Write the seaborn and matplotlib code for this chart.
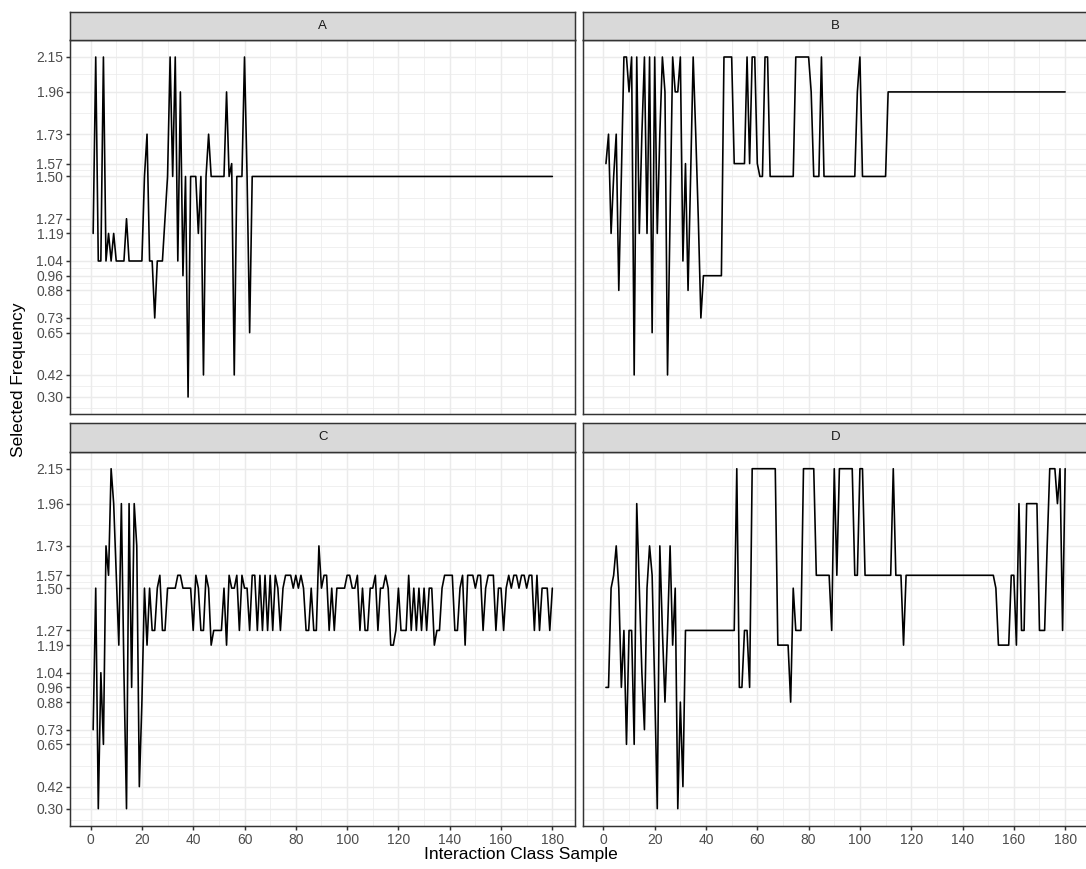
import numpy as np
import pandas as pd
import seaborn as sns
import matplotlib
matplotlib.use("Agg")
import matplotlib.pyplot as plt

sns.set_theme(style="white")
plt.rcParams['font.family'] = ['Liberation Sans', 'DejaVu Sans']

panels = ["A", "B", "C", "D"]
y_breaks = [0.30, 0.42, 0.65, 0.73, 0.88, 0.96, 1.04, 1.19, 1.27, 1.50, 1.57, 1.73, 1.96, 2.15]
x_breaks = [0, 20, 40, 60, 80, 100, 120, 140, 160, 180]
sample = list(range(1, 181))

freq_a = [
    1.19, 2.15, 1.04, 1.04, 2.15, 1.04, 1.19, 1.04, 1.19, 1.04,
    1.04, 1.04, 1.04, 1.27, 1.04, 1.04, 1.04, 1.04, 1.04, 1.04,
    1.50, 1.73, 1.04, 1.04, 0.73, 1.04, 1.04, 1.04, 1.27, 1.50,
    2.15, 1.50, 2.15, 1.04, 1.96, 0.96, 1.50, 0.30, 1.50, 1.50,
    1.50, 1.19, 1.50, 0.42, 1.50, 1.73, 1.50, 1.50, 1.50, 1.50,
    1.50, 1.50, 1.96, 1.50, 1.57, 0.42, 1.50, 1.50, 1.50, 2.15,
    1.50, 0.65, 1.50, 1.50, 1.50, 1.50, 1.50, 1.50, 1.50, 1.50,
    1.50, 1.50, 1.50, 1.50, 1.50, 1.50, 1.50, 1.50, 1.50, 1.50,
    1.50, 1.50, 1.50, 1.50, 1.50, 1.50, 1.50, 1.50, 1.50, 1.50,
    1.50, 1.50, 1.50, 1.50, 1.50, 1.50, 1.50, 1.50, 1.50, 1.50,
    1.50, 1.50, 1.50, 1.50, 1.50, 1.50, 1.50, 1.50, 1.50, 1.50,
    1.50, 1.50, 1.50, 1.50, 1.50, 1.50, 1.50, 1.50, 1.50, 1.50,
    1.50, 1.50, 1.50, 1.50, 1.50, 1.50, 1.50, 1.50, 1.50, 1.50,
    1.50, 1.50, 1.50, 1.50, 1.50, 1.50, 1.50, 1.50, 1.50, 1.50,
    1.50, 1.50, 1.50, 1.50, 1.50, 1.50, 1.50, 1.50, 1.50, 1.50,
    1.50, 1.50, 1.50, 1.50, 1.50, 1.50, 1.50, 1.50, 1.50, 1.50,
    1.50, 1.50, 1.50, 1.50, 1.50, 1.50, 1.50, 1.50, 1.50, 1.50,
    1.50, 1.50, 1.50, 1.50, 1.50, 1.50, 1.50, 1.50, 1.50, 1.50,
]

freq_b = [
    1.57, 1.73, 1.19, 1.50, 1.73, 0.88, 1.50, 2.15, 2.15, 1.96,
    2.15, 0.42, 2.15, 1.19, 1.73, 2.15, 1.19, 2.15, 0.65, 2.15,
    1.19, 1.73, 2.15, 1.96, 0.42, 1.27, 2.15, 1.96, 1.96, 2.15,
    1.04, 1.57, 0.88, 1.50, 2.15, 1.73, 1.27, 0.73, 0.96, 0.96,
    0.96, 0.96, 0.96, 0.96, 0.96, 0.96, 2.15, 2.15, 2.15, 2.15,
    1.57, 1.57, 1.57, 1.57, 1.57, 2.15, 1.57, 2.15, 2.15, 1.57,
    1.50, 1.50, 2.15, 2.15, 1.50, 1.50, 1.50, 1.50, 1.50, 1.50,
    1.50, 1.50, 1.50, 1.50, 2.15, 2.15, 2.15, 2.15, 2.15, 2.15,
    1.96, 1.50, 1.50, 1.50, 2.15, 1.50, 1.50, 1.50, 1.50, 1.50,
    1.50, 1.50, 1.50, 1.50, 1.50, 1.50, 1.50, 1.50, 1.96, 2.15,
    1.50, 1.50, 1.50, 1.50, 1.50, 1.50, 1.50, 1.50, 1.50, 1.50,
    1.96, 1.96, 1.96, 1.96, 1.96, 1.96, 1.96, 1.96, 1.96, 1.96,
    1.96, 1.96, 1.96, 1.96, 1.96, 1.96, 1.96, 1.96, 1.96, 1.96,
    1.96, 1.96, 1.96, 1.96, 1.96, 1.96, 1.96, 1.96, 1.96, 1.96,
    1.96, 1.96, 1.96, 1.96, 1.96, 1.96, 1.96, 1.96, 1.96, 1.96,
    1.96, 1.96, 1.96, 1.96, 1.96, 1.96, 1.96, 1.96, 1.96, 1.96,
    1.96, 1.96, 1.96, 1.96, 1.96, 1.96, 1.96, 1.96, 1.96, 1.96,
    1.96, 1.96, 1.96, 1.96, 1.96, 1.96, 1.96, 1.96, 1.96, 1.96,
]

freq_c = [
    0.73, 1.50, 0.30, 1.04, 0.65, 1.73, 1.57, 2.15, 1.96, 1.57,
    1.19, 1.96, 1.04, 0.30, 1.96, 0.96, 1.96, 1.73, 0.42, 0.88,
    1.50, 1.19, 1.50, 1.27, 1.27, 1.50, 1.57, 1.27, 1.27, 1.50,
    1.50, 1.50, 1.50, 1.57, 1.57, 1.50, 1.50, 1.50, 1.50, 1.27,
    1.57, 1.50, 1.27, 1.27, 1.57, 1.50, 1.19, 1.27, 1.27, 1.27,
    1.27, 1.50, 1.19, 1.57, 1.50, 1.50, 1.57, 1.27, 1.57, 1.50,
    1.50, 1.27, 1.57, 1.57, 1.27, 1.57, 1.27, 1.57, 1.27, 1.57,
    1.27, 1.57, 1.50, 1.27, 1.50, 1.57, 1.57, 1.57, 1.50, 1.57,
    1.50, 1.57, 1.50, 1.27, 1.27, 1.50, 1.27, 1.27, 1.73, 1.50,
    1.57, 1.57, 1.27, 1.50, 1.27, 1.50, 1.50, 1.50, 1.50, 1.57,
    1.57, 1.50, 1.50, 1.57, 1.27, 1.50, 1.27, 1.27, 1.50, 1.50,
    1.57, 1.27, 1.50, 1.50, 1.57, 1.50, 1.19, 1.19, 1.27, 1.50,
    1.27, 1.27, 1.27, 1.57, 1.27, 1.50, 1.27, 1.50, 1.27, 1.50,
    1.27, 1.50, 1.50, 1.19, 1.27, 1.27, 1.50, 1.57, 1.57, 1.57,
    1.57, 1.27, 1.27, 1.50, 1.57, 1.19, 1.57, 1.57, 1.57, 1.50,
    1.57, 1.57, 1.27, 1.50, 1.57, 1.57, 1.57, 1.27, 1.50, 1.50,
    1.27, 1.50, 1.57, 1.50, 1.57, 1.57, 1.50, 1.57, 1.57, 1.50,
    1.57, 1.57, 1.27, 1.57, 1.27, 1.50, 1.50, 1.50, 1.27, 1.50,
]

freq_d = [
    0.96, 0.96, 1.50, 1.57, 1.73, 1.50, 0.96, 1.27, 0.65, 1.27,
    1.27, 0.65, 1.96, 1.50, 1.04, 0.73, 1.50, 1.73, 1.57, 0.96,
    0.30, 1.73, 1.27, 0.88, 1.27, 1.73, 1.19, 1.50, 0.30, 0.88,
    0.42, 1.27, 1.27, 1.27, 1.27, 1.27, 1.27, 1.27, 1.27, 1.27,
    1.27, 1.27, 1.27, 1.27, 1.27, 1.27, 1.27, 1.27, 1.27, 1.27,
    1.27, 2.15, 0.96, 0.96, 1.27, 1.27, 0.96, 2.15, 2.15, 2.15,
    2.15, 2.15, 2.15, 2.15, 2.15, 2.15, 2.15, 1.19, 1.19, 1.19,
    1.19, 1.19, 0.88, 1.50, 1.27, 1.27, 1.27, 2.15, 2.15, 2.15,
    2.15, 2.15, 1.57, 1.57, 1.57, 1.57, 1.57, 1.57, 1.27, 2.15,
    1.57, 2.15, 2.15, 2.15, 2.15, 2.15, 2.15, 1.57, 1.57, 2.15,
    2.15, 1.57, 1.57, 1.57, 1.57, 1.57, 1.57, 1.57, 1.57, 1.57,
    1.57, 1.57, 2.15, 1.57, 1.57, 1.57, 1.19, 1.57, 1.57, 1.57,
    1.57, 1.57, 1.57, 1.57, 1.57, 1.57, 1.57, 1.57, 1.57, 1.57,
    1.57, 1.57, 1.57, 1.57, 1.57, 1.57, 1.57, 1.57, 1.57, 1.57,
    1.57, 1.57, 1.57, 1.57, 1.57, 1.57, 1.57, 1.57, 1.57, 1.57,
    1.57, 1.57, 1.50, 1.19, 1.19, 1.19, 1.19, 1.19, 1.57, 1.57,
    1.19, 1.96, 1.27, 1.27, 1.96, 1.96, 1.96, 1.96, 1.96, 1.27,
    1.27, 1.27, 1.73, 2.15, 2.15, 2.15, 1.96, 2.15, 1.27, 2.15,
]

df = pd.DataFrame({
    "sample": sample * 4,
    "freq": freq_a + freq_b + freq_c + freq_d,
    "panel": [p for p in panels for _ in sample],
})

W, H = 1086, 869
fig = plt.figure(figsize=(W / 100, H / 100), dpi=100)
fig.patch.set_facecolor("white")


def add_ax(l, t, r, b):
    return fig.add_axes([l / W, 1 - b / H, (r - l) / W, (b - t) / H])


cols = [(70.2, 575.3), (583.0, 1088.1)]
rows = [(40.0, 414.0), (451.7, 825.7)]
strip_h = 28.5

grey20 = "#333333"
grey30 = "#4D4D4D"
lw = 1.07

x_minor = [10, 30, 50, 70, 90, 110, 130, 150, 170]
y_minor = [(a + b) / 2 for a, b in zip(y_breaks[:-1], y_breaks[1:])] + [0.24]

xlim = (1 - 0.05 * 179, 180 + 0.05 * 179)
yr = y_breaks[-1] - y_breaks[0]
ylim = (y_breaks[0] - 0.05 * yr, y_breaks[-1] + 0.05 * yr)

for k, p in enumerate(panels):
    r, c = divmod(k, 2)
    l, rr = cols[c]
    t, b = rows[r]
    ax = add_ax(l, t, rr, b)
    sub = df[df["panel"] == p]
    sns.lineplot(data=sub, x="sample", y="freq", ax=ax, color="black",
                 linewidth=lw * 1.1, estimator=None, sort=False)
    ax.set_xlim(*xlim)
    ax.set_ylim(*ylim)
    ax.set_xticks(x_breaks)
    ax.set_yticks(y_breaks)
    ax.set_xticks(x_minor, minor=True)
    ax.set_yticks(y_minor, minor=True)
    ax.set_axisbelow(True)
    ax.grid(which="major", color="#EBEBEB", linewidth=lw)
    ax.grid(which="minor", color="#EBEBEB", linewidth=lw * 0.5)
    ax.set_facecolor("white")
    for s in ax.spines.values():
        s.set_color(grey20)
        s.set_linewidth(lw)
    ax.set_xlabel("")
    ax.set_ylabel("")
    ax.tick_params(which="minor", length=0)
    ax.tick_params(which="major", length=3.0, width=lw, color=grey20,
                   labelsize=10, labelcolor=grey30, pad=2.0)
    ax.set_yticklabels([f"{v:.2f}" for v in y_breaks])
    ax.set_xticklabels([str(v) for v in x_breaks])
    ax.tick_params(axis="y", left=(c == 0), labelleft=(c == 0))
    ax.tick_params(axis="x", bottom=(r == 1), labelbottom=(r == 1))

    sax = add_ax(l, t - strip_h, rr, t)
    sax.set_facecolor("#D9D9D9")
    sax.set_xticks([])
    sax.set_yticks([])
    for s in sax.spines.values():
        s.set_color(grey20)
        s.set_linewidth(lw)
    sax.text(0.5, 0.5, p, ha="center", va="center", fontsize=9.5,
             color="#1A1A1A", transform=sax.transAxes)

fig.text(19 / W, 1 - 380 / H, "Selected Frequency", rotation=90,
         ha="center", va="center", fontsize=12.5, color="black")
fig.text(521 / W, 1 - 855 / H, "Interaction Class Sample",
         ha="center", va="center", fontsize=12.5, color="black")

fig.savefig("out.png", dpi=100, facecolor="white")
